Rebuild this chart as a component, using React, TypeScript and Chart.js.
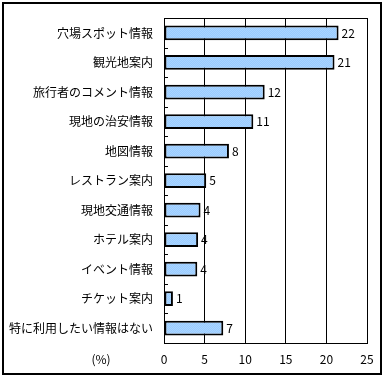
import React, { useEffect, useRef } from "react";
import { Chart, registerables } from "chart.js";

Chart.register(...registerables);

const categories = [
  "穴場スポット情報",
  "観光地案内",
  "旅行者のコメント情報",
  "現地の治安情報",
  "地図情報",
  "レストラン案内",
  "現地交通情報",
  "ホテル案内",
  "イベント情報",
  "チケット案内",
  "特に利用したい情報はない",
];
const values = [21.5, 21.0, 12.4, 11.0, 8.0, 5.2, 4.5, 4.2, 4.1, 1.1, 7.3];
const valueLabels = ["22", "21", "12", "11", "8", "5", "4", "4", "4", "1", "7"];
const xMin = 0;
const xMax = 25;
const xStep = 5;
const unitLabel = "(%)";

const FONT = '"Noto Sans CJK JP", "Noto Sans", sans-serif';

export default function App() {
  const ref = useRef<HTMLCanvasElement | null>(null);

  useEffect(() => {
    const canvas = ref.current;
    if (!canvas) return;

    const pc = document.createElement("canvas");
    pc.width = 2;
    pc.height = 2;
    const pctx = pc.getContext("2d")!;
    pctx.fillStyle = "#99ccff";
    pctx.fillRect(0, 0, 2, 2);
    pctx.fillStyle = "#aad4ff";
    pctx.fillRect(0, 0, 1, 1);
    pctx.fillRect(1, 1, 1, 1);
    const pattern = canvas.getContext("2d")!.createPattern(pc, "repeat");

    const framePlugin = {
      id: "frame",
      afterDraw(chart: any) {
        const { ctx, chartArea } = chart;
        const yScale = chart.scales.y;
        ctx.save();
        ctx.strokeStyle = "#000";
        ctx.lineWidth = 2;
        ctx.strokeRect(3, 3, 378, 371);
        ctx.lineWidth = 1;
        ctx.strokeRect(
          Math.round(chartArea.left) + 0.5,
          Math.round(chartArea.top) + 0.5,
          Math.round(chartArea.right - chartArea.left),
          Math.round(chartArea.bottom - chartArea.top)
        );
        ctx.beginPath();
        for (let i = 0; i < categories.length - 1; i++) {
          const y = Math.round((yScale.getPixelForValue(i) + yScale.getPixelForValue(i + 1)) / 2) + 0.5;
          ctx.moveTo(chartArea.left, y);
          ctx.lineTo(chartArea.left + 4, y);
        }
        ctx.stroke();
        const meta = chart.getDatasetMeta(0);
        ctx.fillStyle = "#000";
        ctx.font = `12px ${FONT}`;
        ctx.textAlign = "left";
        ctx.textBaseline = "middle";
        meta.data.forEach((el: any, i: number) => {
          ctx.fillText(valueLabels[i], el.x + 3, el.y);
        });
        ctx.textAlign = "center";
        ctx.fillText(unitLabel, 101, 359);
        ctx.restore();
      },
    };

    const chart = new Chart(canvas, {
      type: "bar",
      data: {
        labels: categories,
        datasets: [
          {
            data: values,
            backgroundColor: pattern as any,
            borderColor: "#000",
            borderWidth: 2,
            borderSkipped: false,
            barPercentage: 0.5,
            categoryPercentage: 1,
          },
        ],
      },
      options: {
        indexAxis: "y",
        responsive: false,
        animation: false,
        layout: { padding: { top: 17, right: 18, left: 0, bottom: 0 } },
        plugins: {
          legend: { display: false },
          tooltip: { enabled: false },
        },
        scales: {
          x: {
            min: xMin,
            max: xMax,
            ticks: {
              stepSize: xStep,
              color: "#000",
              font: { family: FONT, size: 12 },
              padding: 9,
            },
            grid: { color: "#000", lineWidth: 1, drawTicks: false },
            border: { display: true, color: "#000", width: 1 },
            afterFit: (s: any) => {
              s.height = 35;
            },
          },
          y: {
            grid: { display: false, drawTicks: false },
            border: { display: true, color: "#000", width: 1 },
            ticks: {
              color: "#000",
              font: { family: FONT, size: 12 },
              padding: 11,
            },
            afterFit: (s: any) => {
              s.width = 164;
            },
          },
        },
      },
      plugins: [framePlugin],
    });

    return () => chart.destroy();
  }, []);

  return (
    <div style={{ position: "absolute", left: 0, top: 0, width: 385, height: 378, background: "#fff" }}>
      <canvas ref={ref} width={385} height={378} style={{ display: "block" }} />
    </div>
  );
}
